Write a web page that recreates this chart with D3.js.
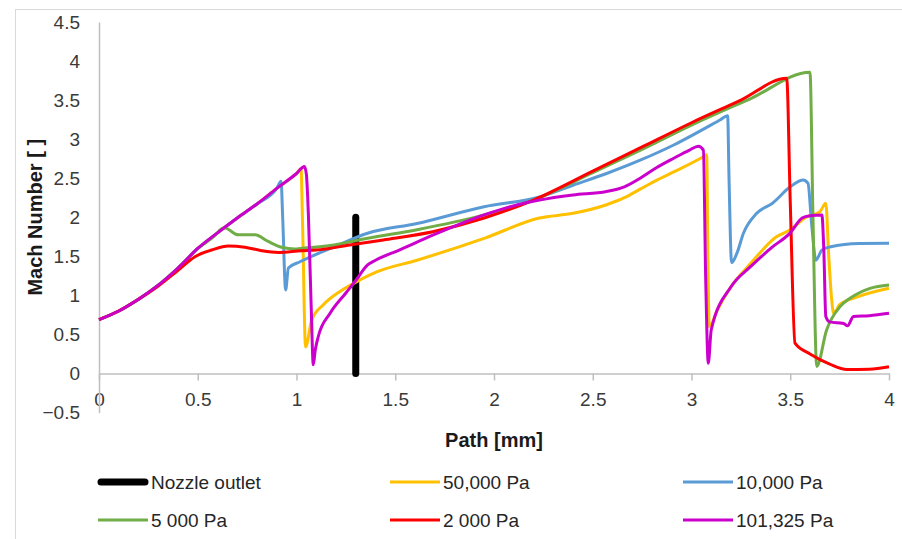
<!DOCTYPE html>
<meta charset="utf-8">
<style>
    body { margin: 0; background: #fff; }
    svg { font-family: 'Liberation Sans', Arial, sans-serif; }
    .tick text { font-size: 19px; fill: #3a3a3a; }
    .axis path, .axis line { stroke: #bfbfbf; stroke-width: 1.5; }
    .title { font-size: 20px; font-weight: bold; fill: #1a1a1a; }
    .legend text { font-size: 19px; fill: #262626; }
    .series { fill: none; stroke-linejoin: round; }
</style>
<svg width="902" height="539"></svg>
<script src="https://d3js.org/d3.v7.min.js"></script>
<script>
    // Mach number along the path, [path mm, Mach]
    var p50000 = [[0,0.69],[0.1,0.80],[0.2,0.95],[0.3,1.13],[0.4,1.35],[0.5,1.60],[0.6,1.80],[0.7,1.99],[0.8,2.17],[0.9,2.37],[1.0,2.56],[1.023,2.62],[1.03,2.0],[1.046,0.34],[1.077,0.685],[1.136,0.88],[1.22,1.05],[1.305,1.175],[1.406,1.30],[1.61,1.45],[1.95,1.73],[2.23,1.99],[2.40,2.05],[2.57,2.16],[2.66,2.25],[2.74,2.36],[2.82,2.47],[2.91,2.58],[3.06,2.775],[3.077,2.80],[3.083,1.5],[3.09,0.60],[3.13,0.81],[3.20,1.11],[3.30,1.41],[3.43,1.75],[3.50,1.84],[3.58,2.0],[3.65,2.07],[3.68,2.18],[3.695,1.5],[3.71,0.94],[3.72,0.77],[3.75,0.88],[3.84,0.98],[4.0,1.09]];
    var p10000 = [[0,0.69],[0.1,0.80],[0.2,0.95],[0.3,1.13],[0.4,1.35],[0.5,1.60],[0.6,1.80],[0.7,1.99],[0.8,2.17],[0.9,2.37],[0.922,2.46],[0.93,2.0],[0.945,1.07],[0.959,1.35],[1.018,1.43],[1.19,1.62],[1.36,1.795],[1.61,1.92],[1.95,2.135],[2.23,2.26],[2.40,2.41],[2.57,2.56],[2.74,2.73],[2.91,2.925],[3.144,3.245],[3.183,3.30],[3.19,2.5],[3.203,1.42],[3.23,1.54],[3.263,1.795],[3.33,2.05],[3.41,2.18],[3.50,2.39],[3.566,2.478],[3.59,2.435],[3.608,1.92],[3.63,1.45],[3.66,1.58],[3.70,1.62],[3.85,1.665],[4.0,1.667]];
    var p5000 = [[0,0.69],[0.1,0.80],[0.2,0.95],[0.3,1.13],[0.4,1.35],[0.5,1.60],[0.6,1.80],[0.613,1.84],[0.634,1.867],[0.705,1.775],[0.79,1.775],[0.857,1.69],[0.925,1.616],[0.992,1.594],[1.02,1.60],[1.19,1.645],[1.36,1.73],[1.61,1.84],[1.95,2.03],[2.2,2.22],[2.5,2.57],[2.75,2.87],[3.0,3.18],[3.3,3.52],[3.6,3.857],[3.615,2.0],[3.634,0.09],[3.684,0.557],[3.752,0.855],[3.803,0.963],[3.904,1.09],[4.0,1.133]];
    var p2000 = [[0,0.69],[0.1,0.80],[0.2,0.95],[0.3,1.12],[0.4,1.32],[0.486,1.495],[0.57,1.58],[0.655,1.632],[0.739,1.616],[0.824,1.572],[0.908,1.55],[1.026,1.572],[1.1,1.58],[1.27,1.645],[1.44,1.71],[1.69,1.815],[1.95,1.99],[2.2,2.22],[2.5,2.59],[2.75,2.90],[3.0,3.21],[3.25,3.50],[3.482,3.78],[3.50,2.2],[3.524,0.387],[3.6,0.25],[3.7,0.12],[3.786,0.05],[3.9,0.055],[4.0,0.087]];
    var p101325 = [[0,0.69],[0.1,0.80],[0.2,0.95],[0.3,1.13],[0.4,1.35],[0.5,1.60],[0.6,1.80],[0.7,1.99],[0.8,2.17],[0.9,2.37],[1.0,2.56],[1.04,2.65],[1.05,2.55],[1.06,2.05],[1.075,0.8],[1.085,0.11],[1.095,0.30],[1.11,0.47],[1.17,0.77],[1.25,1.03],[1.30,1.19],[1.36,1.39],[1.40,1.45],[1.52,1.58],[1.69,1.77],[1.95,2.03],[2.12,2.16],[2.23,2.22],[2.40,2.285],[2.57,2.33],[2.66,2.39],[2.74,2.50],[2.82,2.63],[2.91,2.755],[2.99,2.86],[3.035,2.91],[3.06,2.86],[3.072,1.2],[3.085,0.13],[3.10,0.56],[3.20,1.11],[3.30,1.37],[3.41,1.62],[3.50,1.80],[3.56,1.99],[3.60,2.02],[3.66,2.03],[3.67,1.58],[3.68,0.73],[3.70,0.66],[3.77,0.64],[3.79,0.61],[3.82,0.73],[3.90,0.74],[4.0,0.77]];
    var nozzle = [[1.3,0],[1.3,2.0]];

    var seriesNames = ["Nozzle outlet", "50,000 Pa", "10,000 Pa", "5 000 Pa", "2 000 Pa", "101,325 Pa"];
    var seriesData = [nozzle, p50000, p10000, p5000, p2000, p101325];
    var seriesColors = ["#000000", "#ffc000", "#5b9bd5", "#70ad47", "#ff0000", "#cc00cc"];

    var xTicks = [0, 0.5, 1, 1.5, 2, 2.5, 3, 3.5, 4];
    var yTicks = [-0.5, 0, 0.5, 1, 1.5, 2, 2.5, 3, 3.5, 4, 4.5];

    var svg = d3.select("svg");

    // chart area border (cropped on right / bottom)
    svg.append("rect")
        .attr("x", 15.5).attr("y", 9.5)
        .attr("width", 1000).attr("height", 1000)
        .attr("fill", "none")
        .attr("stroke", "#d9d9d9");

    var x = d3.scaleLinear().domain([0, 4]).range([99, 889]);
    var y = d3.scaleLinear().domain([-0.5, 4.5]).range([412.5, 22]);

    svg.append("g")
        .attr("class", "axis")
        .attr("transform", "translate(0," + y(0) + ")")
        .call(d3.axisBottom(x).tickValues(xTicks).tickSizeInner(7).tickSizeOuter(0).tickPadding(12)
            .tickFormat(d3.format("")));

    svg.append("g")
        .attr("class", "axis")
        .attr("transform", "translate(" + x(0) + ",0)")
        .call(d3.axisLeft(y).tickValues(yTicks).tickSize(0).tickPadding(19)
            .tickFormat(d3.format("")));

    var line = d3.line()
        .x(function (d) { return x(d[0]); })
        .y(function (d) { return y(d[1]); })
        .curve(d3.curveMonotoneX);
    var straight = d3.line()
        .x(function (d) { return x(d[0]); })
        .y(function (d) { return y(d[1]); });

    svg.append("g")
        .selectAll("path")
        .data(seriesData)
        .enter().append("path")
        .attr("class", "series")
        .attr("d", function (d, i) { return i === 0 ? straight(d) : line(d); })
        .attr("stroke", function (d, i) { return seriesColors[i]; })
        .attr("stroke-width", function (d, i) { return i === 0 ? 7 : 3; })
        .attr("stroke-linecap", function (d, i) { return i === 0 ? "round" : "butt"; });

    // axis titles
    svg.append("text")
        .attr("class", "title")
        .attr("text-anchor", "middle")
        .attr("transform", "translate(42," + (y(2)) + ") rotate(-90)")
        .text("Mach Number [ ]");
    svg.append("text")
        .attr("class", "title")
        .attr("text-anchor", "middle")
        .attr("x", (x(0) + x(4)) / 2)
        .attr("y", 447)
        .text("Path [mm]");

    // legend, 3 columns x 2 rows
    var legendX = [98, 390, 683];
    var legendY = [482, 520];
    var legend = svg.append("g").attr("class", "legend")
        .selectAll("g")
        .data(seriesNames)
        .enter().append("g")
        .attr("transform", function (d, i) { return "translate(" + legendX[i % 3] + "," + legendY[Math.floor(i / 3)] + ")"; });
    legend.append("line")
        .attr("x1", function (d, i) { return i === 0 ? 3 : 0; })
        .attr("x2", function (d, i) { return i === 0 ? 47 : 50; })
        .attr("stroke", function (d, i) { return seriesColors[i]; })
        .attr("stroke-width", function (d, i) { return i === 0 ? 7 : 3; })
        .attr("stroke-linecap", function (d, i) { return i === 0 ? "round" : "butt"; });
    legend.append("text")
        .attr("x", 53)
        .attr("dy", "0.35em")
        .text(function (d) { return d; });
</script>
